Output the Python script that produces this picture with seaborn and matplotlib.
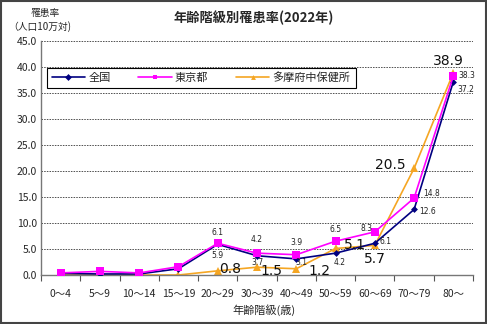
import matplotlib
matplotlib.use("Agg")
import matplotlib.pyplot as plt
import seaborn as sns
import pandas as pd
import numpy as np
from matplotlib.patches import Rectangle

categories = ["0〜4", "5〜9", "10〜14", "15〜19", "20〜29", "30〜39",
              "40〜49", "50〜59", "60〜69", "70〜79", "80〜"]
zenkoku = [0.3, 0.2, 0.2, 1.2, 5.9, 3.7, 3.1, 4.2, 6.1, 12.6, 37.2]
tokyo = [0.4, 0.7, 0.4, 1.6, 6.1, 4.2, 3.9, 6.5, 8.3, 14.8, 38.3]
tama = [0.0, 0.0, 0.0, 0.0, 0.8, 1.5, 1.2, 5.1, 5.7, 20.5, 38.9]
series_names = ["全国", "東京都", "多摩府中保健所"]
yticks = [0, 5, 10, 15, 20, 25, 30, 35, 40, 45]

sns.set_theme(style="white")
plt.rcParams['font.family'] = ['Noto Sans CJK JP', 'DejaVu Sans']

rows = []
for name, vals in zip(series_names, [zenkoku, tokyo, tama]):
    for i, v in enumerate(vals):
        rows.append({"pos": i, "val": v, "series": name})
df = pd.DataFrame(rows)

colors = {"全国": "#000080", "東京都": "#FF00FF", "多摩府中保健所": "#F5A623"}
markers = {"全国": "D", "東京都": "s", "多摩府中保健所": "^"}
msize = {"全国": 3.5, "東京都": 6, "多摩府中保健所": 6}

fig = plt.figure(figsize=(4.87, 3.24), dpi=100)
ax = fig.add_axes([41/487, 1-275/324, 432/487, 234/324])

order = ["多摩府中保健所", "全国", "東京都"]
for name in order:
    sub = df[df.series == name]
    sns.lineplot(data=sub, x="pos", y="val", color=colors[name], marker=markers[name],
                 markersize=msize[name], markeredgewidth=0, linewidth=1.2, ax=ax,
                 label=name, zorder=3 if name != "多摩府中保健所" else 2)

ax.set_xlim(-0.5, len(categories) - 0.5)
ax.set_ylim(0, 45)
ax.set_yticks(yticks)
ax.set_yticklabels([f"{v:.1f}" for v in yticks], fontsize=7.5)
ax.set_xticks(range(len(categories)))
ax.set_xticklabels(categories, fontsize=7.5)
ax.set_xticks(np.arange(-0.5, len(categories), 1.0), minor=True)
ax.tick_params(axis='x', which='major', length=0, pad=10)
ax.tick_params(axis='x', which='minor', length=4, direction='out', color='#555555', width=0.8, bottom=True)
ax.tick_params(axis='y', length=0, pad=3)
ax.set_xlabel("")
ax.set_ylabel("")
for y in yticks[1:]:
    ax.axhline(y, color='#222222', linestyle=(0, (2, 1.5)), linewidth=0.55, zorder=0)
for s in ['top', 'right']:
    ax.spines[s].set_visible(False)
for s in ['left', 'bottom']:
    ax.spines[s].set_color('#777777')
    ax.spines[s].set_linewidth(1.0)

# label offsets in pixels
z_off = {4: (0, -11), 5: (0, -7), 6: (5, -4), 7: (4, -9), 8: (11, 2), 9: (13, -2), 10: (12, -8)}
t_off = {4: (0, 11), 5: (0, 14), 6: (0, 12), 7: (0, 12), 8: (-8, 3), 9: (17, 5), 10: (13, 0)}
m_off = {4: (12, 2), 5: (14, -4), 6: (23, -2), 7: (19, 3), 8: (0, -14), 9: (-24, 3), 10: (-5, 12)}
for i, (dx, dy) in z_off.items():
    ax.annotate(f"{zenkoku[i]:.1f}", (i, zenkoku[i]), xytext=(dx, dy), textcoords='offset pixels',
                ha='center', va='center', fontsize=5.5, color='#222222', family='DejaVu Sans')
for i, (dx, dy) in t_off.items():
    ax.annotate(f"{tokyo[i]:.1f}", (i, tokyo[i]), xytext=(dx, dy), textcoords='offset pixels',
                ha='center', va='center', fontsize=5.5, color='#222222', family='DejaVu Sans')
for i, (dx, dy) in m_off.items():
    ax.annotate(f"{tama[i]:.1f}", (i, tama[i]), xytext=(dx, dy), textcoords='offset pixels',
                ha='center', va='center', fontsize=10, color='#111111', family='DejaVu Sans')

handles, labels = ax.get_legend_handles_labels()
hmap = dict(zip(labels, handles))
leg = ax.legend([hmap[n] for n in series_names], series_names, loc='upper left',
                bbox_to_anchor=(0.0, 0.91), ncol=3, fontsize=8, frameon=True, fancybox=False,
                edgecolor='black', framealpha=1, handlelength=3.0, columnspacing=2.5,
                borderpad=0.45, handletextpad=0.3)
leg.get_frame().set_linewidth(0.8)
for h in leg.legend_handles:
    h.set_markersize(3.5)

fig.text(254/487, 1-18/324, "年齢階級別罹患率(2022年)", ha='center', va='center',
         fontsize=9.5, fontweight='bold')
fig.text(45/487, 1-13/324, "罹患率", ha='center', va='center', fontsize=7)
fig.text(40/487, 1-27/324, "（人口10万対)", ha='center', va='center', fontsize=7)
fig.text(264/487, 1-310/324, "年齢階級(歳)", ha='center', va='center', fontsize=8)

fig.patches.append(Rectangle((0.002, 0.003), 0.995, 0.994, transform=fig.transFigure,
                             fill=False, edgecolor='#444444', linewidth=1.5))

fig.savefig("out.png", dpi=100)
